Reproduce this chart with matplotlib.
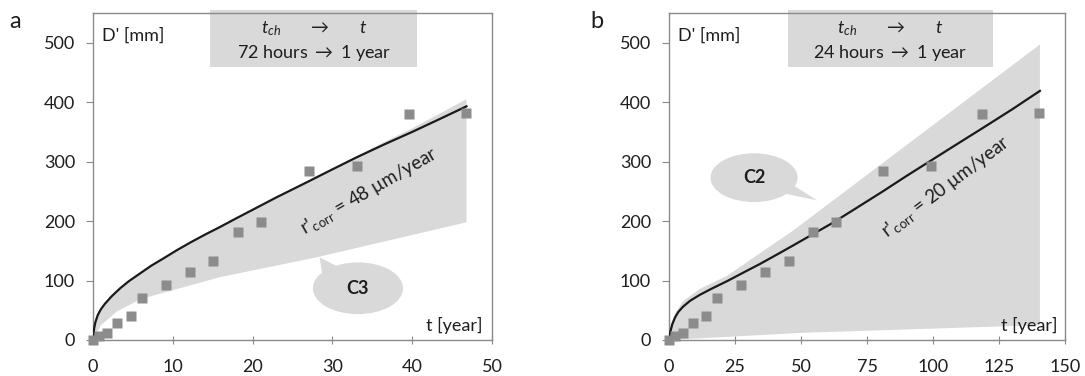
import matplotlib.pyplot as plt
from matplotlib.patches import Ellipse, Polygon

plt.rcParams['font.family'] = ['Lato', 'DejaVu Sans']
plt.rcParams['mathtext.fontset'] = 'custom'
plt.rcParams['mathtext.rm'] = 'Lato'
plt.rcParams['mathtext.it'] = 'Lato:italic'

# measured points (same D' for both panels, time axis rescaled)
t_a = [0, 0.8, 1.7, 3.05, 4.7, 6.1, 9.1, 12.1, 15.1, 18.2, 21.1, 27.1, 33.1, 39.6, 46.8]
t_b = [0, 2.4, 5.2, 9.1, 14.0, 18.2, 27.3, 36.4, 45.3, 54.4, 63.2, 81.0, 99.3, 118.6, 140.1]
d_meas = [0, 7, 12, 28, 41, 70, 92, 115, 133, 182, 199, 284, 293, 380, 382]

# model curves
line_a_t = [0, 0.15, 0.3, 0.6, 1.0, 1.5, 2.3, 3.4, 4.5, 5.9, 7.3, 8.8, 10.5, 12.2, 14, 15.9,
            18, 20, 23, 26.6, 30, 33, 36.5, 40, 43.5, 46.8]
line_a_d = [0, 20, 30, 42, 52, 61, 73, 87, 99, 112, 125, 137, 151, 164, 177, 190,
            205, 219, 240, 264, 287, 307, 329, 350, 372, 393]
line_b_t = [0, 0.4, 1.2, 2.3, 3.5, 5.3, 8, 11.7, 16, 22, 28, 34.5, 41, 47, 54.5, 62, 71,
            81, 90, 100, 110, 119, 130, 140.5]
line_b_d = [0, 12, 26, 38, 47, 56, 66, 76, 86, 99, 113, 128, 144, 159, 178, 197, 222,
            250, 276, 304, 332, 357, 388, 419]

# scatter bands
band_a_up_t = line_a_t
band_a_up_d = [0, 20, 30, 42, 52, 61, 73, 87, 99, 112, 125, 137, 151, 164, 177, 190,
               205, 219, 240, 264, 288, 309, 333, 356, 381, 405]
band_a_lo_t = [0, 1, 3, 6, 16, 28, 46.8]
band_a_lo_d = [0, 25, 48, 69, 106, 139, 198]
band_b_up_t = [0, 1, 2.3, 5.3, 11.7, 22, 47, 140.5]
band_b_up_d = [0, 30, 45, 65, 86, 108, 184, 497]
band_b_lo_t = [0, 50, 140.5]
band_b_lo_d = [0, 12, 25]

GRAY_FILL = '#d9d9d9'
SQ = '#8c8c8c'
SPINE = '#8a8a8a'
TXT = '#1e1e1e'

fig = plt.figure(figsize=(10.85, 3.76), dpi=100)
ax_a = fig.add_axes([93 / 1085, 1 - 340 / 376, 399 / 1085, 327 / 376])
ax_b = fig.add_axes([669 / 1085, 1 - 340 / 376, 396 / 1085, 327 / 376])


def style(ax, xmax, xticks):
    ax.set_xlim(0, xmax)
    ax.set_ylim(0, 550)
    ax.set_xticks(xticks)
    ax.set_yticks([0, 100, 200, 300, 400, 500])
    for s in ax.spines.values():
        s.set_color(SPINE)
        s.set_linewidth(1.0)
    ax.tick_params(axis='x', direction='inout', length=6, color=SPINE, pad=11,
                   labelsize=13, labelcolor=TXT)
    ax.tick_params(axis='y', direction='out', length=5, color=SPINE, pad=8,
                   labelsize=13, labelcolor=TXT)


def band(ax, up_t, up_d, lo_t, lo_d):
    pts = list(zip(up_t, up_d)) + list(zip(lo_t[::-1], lo_d[::-1]))
    ax.add_patch(Polygon(pts, closed=True, facecolor=GRAY_FILL, edgecolor='none', zorder=1))


def header(ax, x0, x1, ratio):
    ax.add_patch(plt.Rectangle((x0, 460), x1 - x0, 95, facecolor=GRAY_FILL,
                               edgecolor='none', zorder=1, clip_on=False))
    xc = (x0 + x1) / 2
    ax.text(xc, 523, r'$t_{ch}$      $\rightarrow$      $t$', ha='center', va='center',
            fontsize=13, color=TXT, zorder=3)
    ax.text(xc, 483, ratio + r' $\rightarrow$ 1 year', ha='center', va='center',
            fontsize=13, color=TXT, zorder=3)


def callout(ax, center, w, h, pointer, label):
    ax.add_patch(Polygon(pointer, closed=True, facecolor=GRAY_FILL, edgecolor='none', zorder=2))
    ax.add_patch(Ellipse(center, w, h, facecolor=GRAY_FILL, edgecolor='none', zorder=2))
    ax.text(center[0], center[1], label, ha='center', va='center', fontsize=13,
            fontweight='bold', color=TXT, zorder=3)


# panel a
style(ax_a, 50, [0, 10, 20, 30, 40, 50])
band(ax_a, band_a_up_t, band_a_up_d, band_a_lo_t, band_a_lo_d)
ax_a.plot(line_a_t, line_a_d, color='#1a1a1a', lw=1.6, zorder=4)
ax_a.plot(t_a, d_meas, 's', color=SQ, ms=7, mec='none', zorder=5, clip_on=False)
header(ax_a, 14.7, 40.6, '72 hours')
callout(ax_a, (33.2, 87), 11.3, 87, [(28.4, 139), (28.8, 105), (31.5, 118)], 'C3')
ax_a.text(34.6, 250, r"r'$_{\mathregular{corr}}$ = 48 µm/year", rotation=30,
          ha='center', va='center', fontsize=13.5, color=TXT, zorder=3,
          rotation_mode='anchor')
ax_a.text(1.1, 512, "D' [mm]", ha='left', va='center', fontsize=13, color=TXT)
ax_a.text(48.8, 25, 't [year]', ha='right', va='center', fontsize=13, color=TXT)

# panel b
style(ax_b, 150, [0, 25, 50, 75, 100, 125, 150])
band(ax_b, band_b_up_t, band_b_up_d, band_b_lo_t, band_b_lo_d)
ax_b.plot(line_b_t, line_b_d, color='#1a1a1a', lw=1.6, zorder=4)
ax_b.plot(t_b, d_meas, 's', color=SQ, ms=7, mec='none', zorder=5, clip_on=False)
header(ax_b, 45, 122.8, '24 hours')
callout(ax_b, (32.2, 273), 33, 82, [(56, 235), (42, 248), (46.5, 262)], 'C2')
ax_b.text(105, 257, r"r'$_{\mathregular{corr}}$ = 20 µm/year", rotation=37,
          ha='center', va='center', fontsize=13.5, color=TXT, zorder=3,
          rotation_mode='anchor')
ax_b.text(3.3, 512, "D' [mm]", ha='left', va='center', fontsize=13, color=TXT)
ax_b.text(147.3, 25, 't [year]', ha='right', va='center', fontsize=13, color=TXT)

fig.text(15 / 1085, 1 - 21 / 376, 'a', ha='center', va='center', fontsize=17, color=TXT)
fig.text(597 / 1085, 1 - 21 / 376, 'b', ha='center', va='center', fontsize=17, color=TXT)

fig.savefig('out.png', dpi=100)
